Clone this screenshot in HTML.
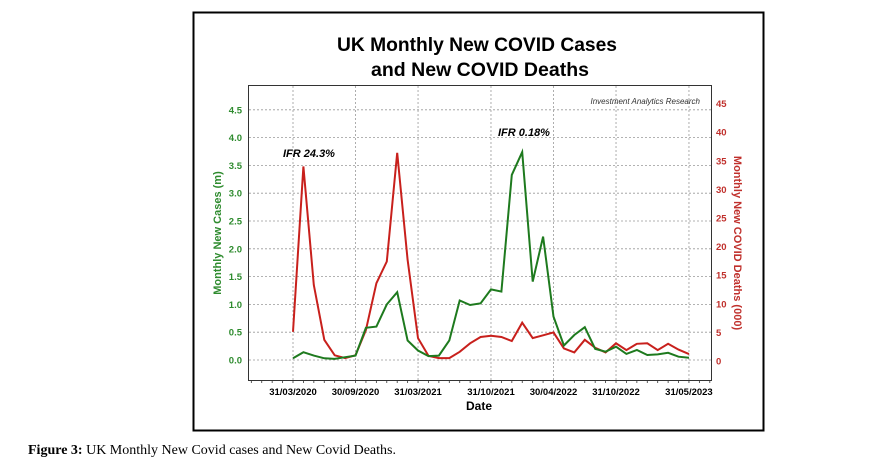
<!DOCTYPE html>
<html><head><meta charset="utf-8"><style>
html,body{margin:0;padding:0;background:#fff;width:870px;height:464px;overflow:hidden}
svg{display:block}
</style></head><body>
<svg id="s" width="870" height="464" xmlns="http://www.w3.org/2000/svg" font-family="Liberation Sans, sans-serif">
<rect x="193.5" y="12.5" width="570" height="418" fill="#fff" stroke="#000" stroke-width="2"/>
<text x="477" y="51" font-size="19" font-weight="bold" text-anchor="middle" textLength="280" lengthAdjust="spacingAndGlyphs">UK Monthly New COVID Cases</text>
<text x="480" y="76" font-size="19" font-weight="bold" text-anchor="middle" textLength="218" lengthAdjust="spacingAndGlyphs">and New COVID Deaths</text>
<g id="grid" stroke="#999" stroke-width="0.8" stroke-dasharray="2,2"></g>
<rect x="248.5" y="85.5" width="463" height="295" fill="none" stroke="#333" stroke-width="1"/>
<g id="lab"></g>
<text x="700" y="104" font-size="8" font-style="italic" text-anchor="end" fill="#333">Investment Analytics Research</text>
<text x="283" y="157" font-size="11" font-weight="bold" font-style="italic">IFR 24.3%</text>
<text x="498" y="136" font-size="11" font-weight="bold" font-style="italic">IFR 0.18%</text>
<text x="479" y="410" font-size="12" font-weight="bold" text-anchor="middle">Date</text>
<text transform="translate(221,233) rotate(-90)" font-size="11" font-weight="bold" fill="#2e8b2e" text-anchor="middle">Monthly New Cases (m)</text>
<text transform="translate(734,243) rotate(90)" font-size="11" font-weight="bold" fill="#c0302c" text-anchor="middle">Monthly New COVID Deaths (000)</text>
<polyline id="red" fill="none" stroke="#c8201c" stroke-width="2"/>
<polyline id="green" fill="none" stroke="#1e7a1e" stroke-width="2"/>
<text x="28" y="454" font-size="14" font-family="Liberation Serif, serif"><tspan font-weight="bold">Figure 3:</tspan> UK Monthly New Covid cases and New Covid Deaths.</text>
</svg>
<script>
var NS="http://www.w3.org/2000/svg";
function el(p,t,a,txt){var e=document.createElementNS(NS,t);for(var k in a)e.setAttribute(k,a[k]);if(txt)e.textContent=txt;p.appendChild(e);return e;}
var g=document.getElementById('grid'),lab=document.getElementById('lab');
function cy(v){return 360-v*55.6;}
function dy(v){return 361-v*5.72;}
for(var i=0;i<=9;i++){var v=i*0.5,y=cy(v);el(g,'line',{x1:249,x2:711,y1:y,y2:y});
 el(lab,'text',{x:242,y:y+3.5,'font-size':9.5,'font-weight':'bold',fill:'#2e8b2e','text-anchor':'end'},v.toFixed(1));}
for(var i=0;i<=9;i++){var y=dy(i*5);el(lab,'text',{x:716,y:y+3.5,'font-size':9.5,'font-weight':'bold',fill:'#c0302c'},String(i*5));}
function mx(i){return 293+10.42*i;}
var dates=[[0,'31/03/2020'],[6,'30/09/2020'],[12,'31/03/2021'],[19,'31/10/2021'],[25,'30/04/2022'],[31,'31/10/2022'],[38,'31/05/2023']];
dates.forEach(function(d){var x=mx(d[0]);el(g,'line',{x1:x,x2:x,y1:86,y2:380});
 el(lab,'text',{x:x,y:395,'font-size':9.5,'font-weight':'bold','text-anchor':'middle'},d[1]);});
for(var i=-4;i<=40;i++){var x=mx(i);if(x>249&&x<711)el(lab,'line',{x1:x,x2:x,y1:380,y2:383,stroke:'#333','stroke-width':0.8});}
var cases=[0.03,0.14,0.08,0.03,0.02,0.05,0.08,0.58,0.6,1.0,1.22,0.35,0.17,0.07,0.08,0.35,1.07,0.99,1.02,1.27,1.23,3.33,3.74,1.41,2.22,0.78,0.26,0.45,0.59,0.2,0.15,0.24,0.11,0.18,0.09,0.1,0.13,0.06,0.04];
var deaths=[5.1,34,13.3,3.7,1.0,0.5,1.0,5.4,13.6,17.4,36.4,17.7,4.0,0.9,0.5,0.5,1.6,3.1,4.2,4.4,4.2,3.5,6.7,4.0,4.5,5.0,2.2,1.5,3.7,2.3,1.5,3.1,1.9,3.0,3.1,1.9,3.0,2.0,1.2];
document.getElementById('green').setAttribute('points',cases.map(function(v,i){return mx(i).toFixed(1)+','+cy(v).toFixed(1)}).join(' '));
document.getElementById('red').setAttribute('points',deaths.map(function(v,i){return mx(i).toFixed(1)+','+dy(v).toFixed(1)}).join(' '));
</script>
</body></html>
